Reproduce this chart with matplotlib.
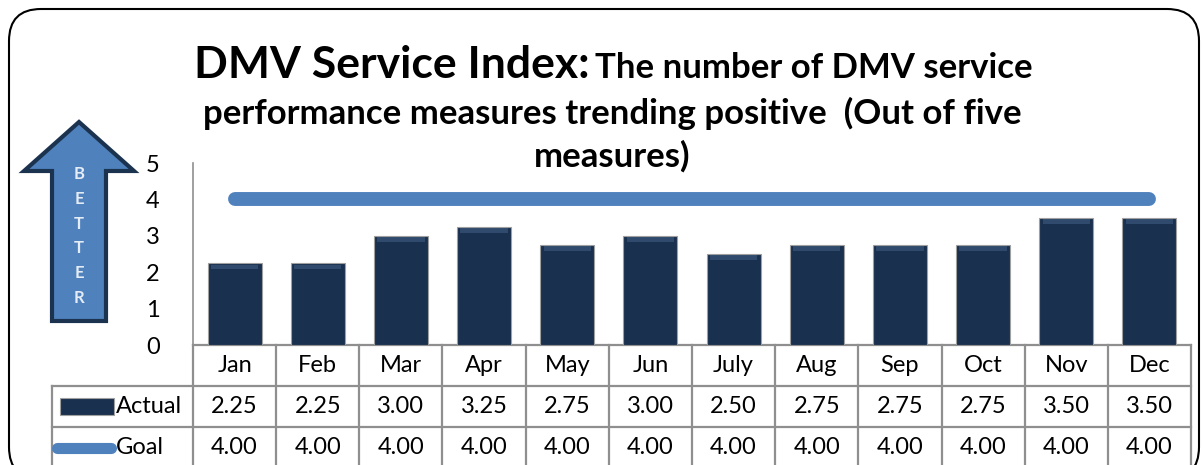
import matplotlib.pyplot as plt
from matplotlib.patches import FancyBboxPatch, Polygon, Rectangle

# monthly values: measures trending positive (out of five)
meses = ["Jan", "Feb", "Mar", "Apr", "May", "Jun", "July", "Aug", "Sep", "Oct", "Nov", "Dec"]
actual = [2.25, 2.25, 3.00, 3.25, 2.75, 3.00, 2.50, 2.75, 2.75, 2.75, 3.50, 3.50]
goal = [4.00, 4.00, 4.00, 4.00, 4.00, 4.00, 4.00, 4.00, 4.00, 4.00, 4.00, 4.00]

azul_oscuro = "#19304f"
azul = "#4f81bd"
gris = "#8f8f8f"
fuente = "Lato"
tam = 17

fig = plt.figure(figsize=(12.03, 4.65), dpi=100)

# capa de fondo en pixeles para el marco, la flecha y el titulo
fondo = fig.add_axes([0, 0, 1, 1])
fondo.set_xlim(0, 1203)
fondo.set_ylim(465, 0)
fondo.axis("off")

marco = FancyBboxPatch((9, 9), 1190, 470, boxstyle="round,pad=0,rounding_size=32",
                       fc="white", ec="black", lw=1.5)
fondo.add_patch(marco)

flecha = Polygon([(79, 122), (134, 171), (106, 171), (106, 321), (52, 321), (52, 171), (24, 171)],
                 closed=True, fc=azul, ec="#1c3350", lw=3, joinstyle="miter")
fondo.add_patch(flecha)
for i, letra in enumerate("BETTER"):
    fondo.text(79, 174 + i * 24.8, letra, ha="center", va="center", color="#e4ecf6",
               fontsize=12, fontweight="bold", family=fuente)

# titulo
fondo.text(590, 78, "DMV Service Index:", ha="right", va="baseline", fontsize=32,
           fontweight="bold", family=fuente)
fondo.text(595, 78, "The number of DMV service", ha="left", va="baseline", fontsize=25,
           fontweight="bold", family=fuente)
fondo.text(612, 124, "performance measures trending positive  (Out of five", ha="center",
           va="baseline", fontsize=25, fontweight="bold", family=fuente)
fondo.text(612, 167, "measures)", ha="center", va="baseline", fontsize=25,
           fontweight="bold", family=fuente)

# grafico principal
ax = fig.add_axes([193 / 1203, 120 / 465, 998 / 1203, 182 / 465])
ax.patch.set_alpha(0)
x = list(range(len(meses)))
ax.bar(x, actual, width=0.65, color=azul_oscuro, edgecolor="#a0a0a0", linewidth=0.8, zorder=3)
# brillo superior de cada barra
ax.bar(x, [0.13] * len(x), bottom=[a - 0.17 for a in actual], width=0.57,
       color="#5a7ba3", alpha=0.35, linewidth=0, zorder=4)
ax.plot(x, goal, color=azul, lw=10, solid_capstyle="round", zorder=5)

ax.set_xlim(-0.5, len(meses) - 0.5)
ax.set_ylim(0, 5)
ax.set_yticks(range(6))
ax.set_xticks([])
ax.tick_params(axis="y", length=0, pad=24, labelsize=tam)
for lab in ax.get_yticklabels():
    lab.set_family(fuente)
for lado in ["top", "right", "bottom"]:
    ax.spines[lado].set_visible(False)
ax.spines["left"].set_color(gris)
ax.spines["left"].set_linewidth(1.2)

# tabla de datos debajo del eje
fila = 41 / 36.4
izq = -0.5 - 141 / 83.17
der = len(meses) - 0.5
abajo = -3.5
lin = dict(color=gris, lw=1.6, clip_on=False, zorder=2)
ax.plot([-0.5, der], [0, 0], **lin)
ax.plot([izq, der], [-fila, -fila], **lin)
ax.plot([izq, der], [-2 * fila, -2 * fila], **lin)
ax.plot([izq, izq], [-fila, abajo], **lin)
for k in range(len(meses) + 1):
    ax.plot([k - 0.5, k - 0.5], [0, abajo], **lin)

txt = dict(ha="center", va="center", fontsize=tam, family=fuente, clip_on=False)
for i, mes in enumerate(meses):
    ax.text(i, -0.5 * fila, mes, **txt)
    ax.text(i, -1.5 * fila, f"{actual[i]:.2f}", **txt)
    ax.text(i, -2.5 * fila, f"{goal[i]:.2f}", **txt)

# claves de la leyenda dentro de la tabla
ax.add_patch(Rectangle((-2.10, -1.92), 0.65, 0.46, fc=azul_oscuro, ec="#a0a0a0", lw=0.8,
                       clip_on=False))
ax.plot([-2.13, -1.48], [-2.83, -2.83], color=azul, lw=8, solid_capstyle="round", clip_on=False)
ax.text(-1.43, -1.5 * fila, "Actual", ha="left", va="center", fontsize=tam, family=fuente,
        clip_on=False)
ax.text(-1.43, -2.5 * fila, "Goal", ha="left", va="center", fontsize=tam, family=fuente,
        clip_on=False)

fig.savefig("out.png", dpi=100)
